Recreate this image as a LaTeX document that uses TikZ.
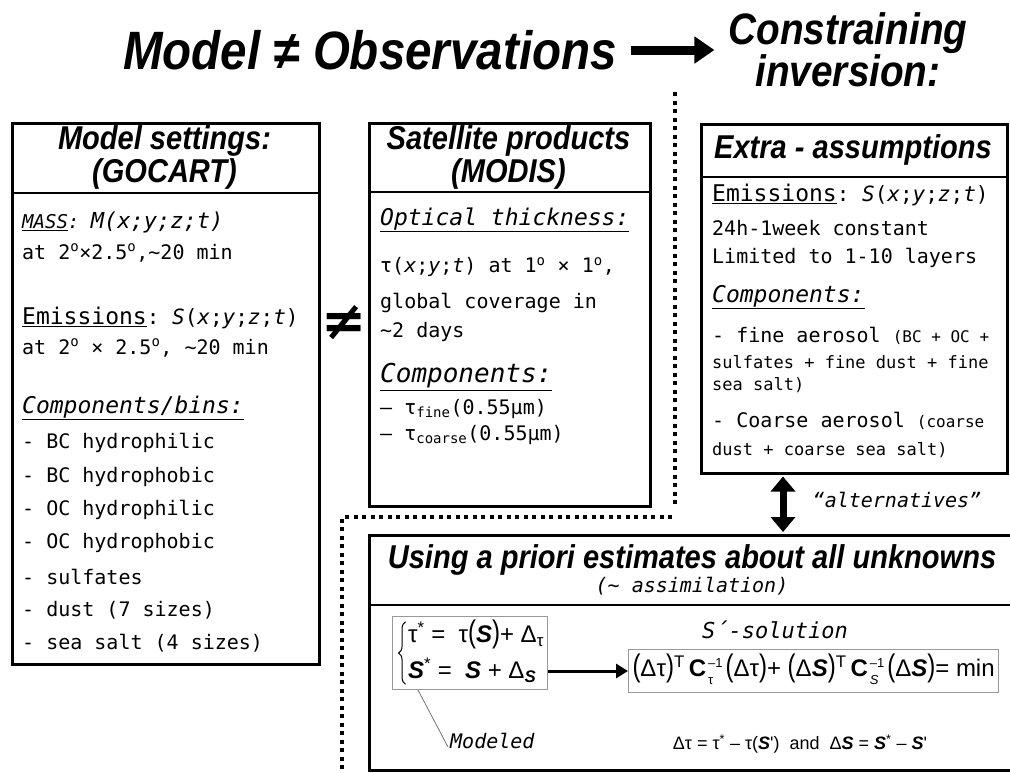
\documentclass[tikz,border=0pt]{standalone}
\usepackage{fontspec}
\usepackage{graphicx}
\usetikzlibrary{arrows.meta,calc,decorations.pathreplacing}
\setmainfont{Liberation Sans}
\setmonofont{DejaVu Sans Mono}
\newfontfamily\hdf[FakeStretch=0.88]{Liberation Sans}
\newfontfamily\eqf{Liberation Sans}
\newfontfamily\symf{DejaVu Sans}
\newcommand{\fs}[1]{\fontsize{#1}{#1}\selectfont}
\newcommand{\undl}[1]{\underline{#1}}
\newcommand{\bpl}{\scalebox{1}[1.3]{(}}
\newcommand{\bpr}{\scalebox{1}[1.3]{)}}
\newcommand{\bS}{\textbf{\textit{S}}}
\newcommand{\supsub}[2]{\kern2pt{\fontsize{13}{12}\selectfont\begin{tabular}[c]{@{}l@{}}#1\\[5pt]#2\end{tabular}}\kern3pt}
\begin{document}
\begin{tikzpicture}[x=1pt,y=-1pt,
  frame/.style={draw, line width=2.5pt, inner sep=0pt, anchor=north west},
  hd/.style={font=\hdf\bfseries\itshape\fontsize{33}{33}\selectfont, inner sep=0pt, align=center},
  txt/.style={font=\ttfamily\fs{20}, anchor=west, inner sep=0pt},
  thinbox/.style={draw=black!40, line width=1pt},
  dots/.style={line width=4pt, dash pattern=on 4pt off 4.5pt},
  divider/.style={line width=2.5pt}]
\useasboundingbox (0,0) rectangle (1010,772);

% title
\node[font=\hdf\bfseries\itshape\fs{54}, inner sep=0pt] (title) at (370,50) {Model ≠ Observations};
\node[font=\hdf\bfseries\itshape\fontsize{44}{40}\selectfont, inner sep=0pt, align=center] (cons) at (848,50) {Constraining\\inversion:};
\draw[line width=9pt, -{Triangle[length=20pt,width=26pt]}] ([xshift=14pt]title.east) -- ([xshift=-14pt]cons.west);

% dotted separators
\draw[dots] (675,92) -- (675,508);
\draw[dots] (672,517) -- (342,517) -- (342,772);

% left box
\node[frame, minimum width=307pt, minimum height=541pt] (mbox) at (11,122) {};
\draw[divider] (mbox.west |- 0,193) -- (mbox.east |- 0,193);
\node[hd] (mhd) at (164.5,157.5) {Model settings:\\(GOCART)};
\node[txt] (m1) at (22,222) {\itshape\fs{19}\undl{MASS}: {\fs{22}M(x;y;z;t)}};
\node[txt] (m2) at (22,253) {at 2\textsuperscript{o}×2.5\textsuperscript{o},\textasciitilde20 min};
\node[txt] (m3) at (22,318) {{\fs{23}\undl{Emissions}}{\fs{21}: \textit{S}(\textit{x};\textit{y};\textit{z};\textit{t})}};
\node[txt] (m4) at (22,348) {at 2\textsuperscript{o} × 2.5\textsuperscript{o}, \textasciitilde20 min};
\node[txt] (m5) at (22,408) {\fs{23}\itshape\undl{Components/bins:}};
\node[txt] (m6) at (22,443) {- BC hydrophilic};
\node[txt] (m7) at (22,477) {- BC hydrophobic};
\node[txt] (m8) at (22,510) {- OC hydrophilic};
\node[txt] (m9) at (22,543) {- OC hydrophobic};
\node[txt] (m10) at (22,577) {- sulfates};
\node[txt] (m11) at (22,610) {- dust (7 sizes)};
\node[txt] (m12) at (22,643) {- sea salt (4 sizes)};

% not equal
\node[font=\symf\bfseries\fs{54}, inner sep=0pt] (neq) at (344,323) {≠};

% satellite box
\node[frame, minimum width=281pt, minimum height=383pt] (sbox) at (368,122) {};
\draw[divider] (sbox.west |- 0,192) -- (sbox.east |- 0,192);
\node[hd] (shd) at (508.5,157) {Satellite products\\(MODIS)};
\node[txt] (s1) at (380,220) {\fs{23}\itshape\undl{Optical thickness:}};
\node[txt] (s2) at (380,267) {τ(\textit{x};\textit{y};\textit{t}) at 1\textsuperscript{o} × 1\textsuperscript{o},};
\node[txt] (s3) at (380,303) {global coverage in};
\node[txt] (s4) at (380,332) {\textasciitilde2 days};
\node[txt] (s5) at (380,377) {\fs{26}\itshape\undl{Components:}};
\node[txt] (s6) at (380,409) {– τ\textsubscript{fine}(0.55μm)};
\node[txt] (s7) at (380,435) {– τ\textsubscript{coarse}(0.55μm)};

% extra box
\node[frame, minimum width=306pt, minimum height=349pt] (xbox) at (700,123) {};
\draw[divider] (xbox.west |- 0,177) -- (xbox.east |- 0,177);
\node[hd] (xhd) at (853,150) {Extra - assumptions};
\node[txt] (x1) at (712,195) {{\fs{23}\undl{Emissions}}{\fs{21}: \textit{S}(\textit{x};\textit{y};\textit{z};\textit{t})}};
\node[txt] (x2) at (712,228) {24h-1week constant};
\node[txt] (x3) at (712,258) {Limited to 1-10 layers};
\node[txt] (x4) at (712,297) {\fs{23}\itshape\undl{Components:}};
\node[txt] (x5) at (712,336) {- fine aerosol {\fs{16}(BC + OC +}};
\node[txt] (x6) at (712,362) {\fs{17}sulfates + fine dust + fine};
\node[txt] (x7) at (712,385) {\fs{17}sea salt)};
\node[txt] (x8) at (712,421) {- Coarse aerosol {\fs{16}(coarse}};
\node[txt] (x9) at (712,450) {\fs{17}dust + coarse sea salt)};

% bottom box
\node[frame, minimum width=660pt, minimum height=235pt] (ubox) at (368,534) {};
\draw[divider] (ubox.west |- 0,605) -- (ubox.east |- 0,605);
\node[hd] (uhd) at (692,560) {Using a priori estimates about all unknowns};
\node[font=\ttfamily\itshape\fs{20}, inner sep=0pt] (uhd2) at (692,586) {(\textasciitilde{} assimilation)};

% alternatives arrow
\draw[line width=7pt, {Triangle[length=15pt,width=24pt]}-{Triangle[length=15pt,width=24pt]}, shorten <=2pt, shorten >=2pt] ([xshift=83pt]xbox.south west) -- ([xshift=415pt]ubox.north west);
\node[font=\ttfamily\itshape\fs{20}, inner sep=0pt] (alt) at (897,500) {“alternatives”};

% equations
\node[thinbox, inner sep=4pt, font=\eqf\fs{24}] (eqs) at (470,653)
  {\hspace*{12pt}\begin{tabular}{@{}l@{}}τ\textsuperscript{*} = \ τ\bpl\bS\bpr + Δ\textsubscript{τ}\\[8pt] \bS\textsuperscript{*} = \ \bS\ + Δ\textsubscript{\bS}\end{tabular}};
\draw[line width=1pt, decorate, decoration={brace, amplitude=7pt}] ([xshift=14pt,yshift=6pt]eqs.south west) -- ([xshift=14pt,yshift=-6pt]eqs.north west);
\node[font=\ttfamily\itshape\fs{22}, inner sep=0pt] (sol) at (775,630) {S´-solution};
\node[thinbox, inner sep=4pt, font=\eqf\fs{24}, anchor=west] (form) at (628,671)
  {\bpl Δτ\bpr\textsuperscript{T}\,\textbf{C}\supsub{–1}{τ}\bpl Δτ\bpr + \bpl Δ\bS\bpr\textsuperscript{T}\,\textbf{C}\supsub{–1}{\textit{S}}\bpl Δ\bS\bpr = min};
\draw[line width=3pt, -{Triangle[length=12pt,width=14pt]}] (eqs.east |- form.west) -- (form.west);
\node[font=\ttfamily\itshape\fs{20}, inner sep=0pt, anchor=west] (mod) at (450,741) {Modeled};
\coordinate (lead) at (418,690);
\draw[black!55, line width=0.8pt] (lead) -- ([xshift=-2pt,yshift=-6pt]mod.west);
\node[font=\eqf\fs{18}, inner sep=0pt] (dl) at (800,744) {Δτ = τ\textsuperscript{*} – τ(\bS') \ and \ Δ\bS\ = \bS\textsuperscript{*} – \bS'};
\end{tikzpicture}
\end{document}
